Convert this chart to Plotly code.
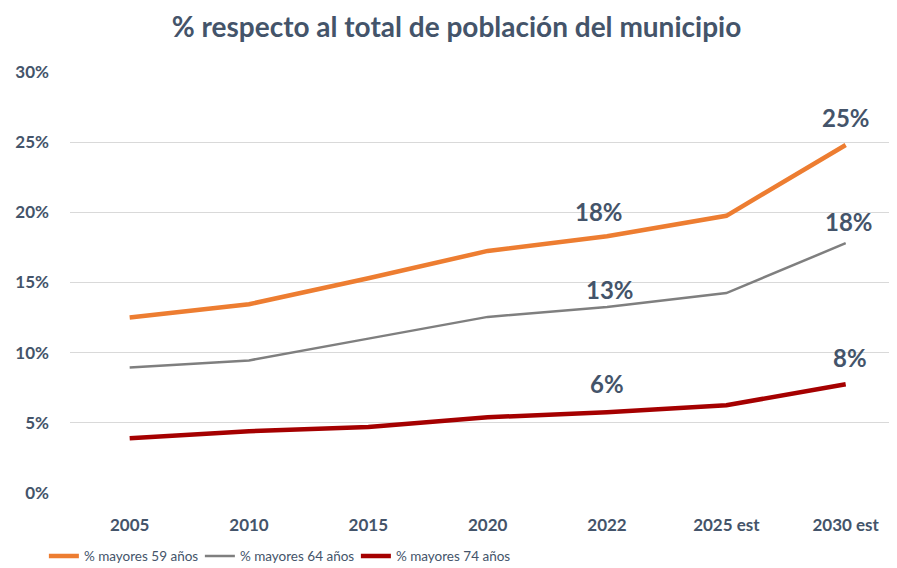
import plotly.graph_objects as go

categories = ["2005", "2010", "2015", "2020", "2022", "2025 est", "2030 est"]
may59 = [12.5, 13.45, 15.3, 17.25, 18.3, 19.75, 24.8]
may64 = [8.95, 9.45, 11.0, 12.55, 13.25, 14.25, 17.8]
may74 = [3.9, 4.4, 4.7, 5.4, 5.75, 6.25, 7.75]
series_names = ["% mayores 59 años", "% mayores 64 años", "% mayores 74 años"]
colors = ["#ED7D31", "#7F7F7F", "#A50000"]
widths = [4.5, 2.5, 4.5]
label_cats = ["2022", "2030 est"]
label_shift = [[25, 27], [18, 22], [29, 27]]
label_xshift = [[-8, 0], [3, 3], [0, 4]]

TXT = "#44546A"
FONT = "Lato, 'Open Sans', sans-serif"

fig = go.Figure()
for name, vals, c, w in zip(series_names, [may59, may64, may74], colors, widths):
    fig.add_trace(go.Scatter(x=categories, y=vals, mode="lines", name=name,
                             line=dict(color=c, width=w)))

for vals, shifts, xshifts in zip([may59, may64, may74], label_shift, label_xshift):
    for cat, sh, xs in zip(label_cats, shifts, xshifts):
        i = categories.index(cat)
        v = vals[i]
        fig.add_annotation(x=i, y=v, xref="x", yref="y", text=f"<b>{round(v)}%</b>",
                           showarrow=False, yshift=sh, xshift=xs,
                           font=dict(size=24, color=TXT, family=FONT))

fig.update_layout(
    width=897, height=568,
    paper_bgcolor="white", plot_bgcolor="white",
    margin=dict(l=62, r=8, t=64, b=83, autoexpand=False),
    title=dict(text="<b>% respecto al total de población del municipio</b>",
               x=0.5, xanchor="center", y=0.966, yanchor="middle",
               font=dict(size=28, color=TXT, family=FONT)),
    font=dict(family=FONT, color=TXT),
    showlegend=True,
    legend=dict(orientation="h", xref="container", yref="container",
                x=0.040, xanchor="left", y=0.035, yanchor="middle",
                font=dict(size=13.5, color=TXT, family=FONT), itemwidth=30,
                entrywidth=111, entrywidthmode="pixels",
                traceorder="normal"),
    xaxis=dict(type="category", range=[-0.5, 6.43], showgrid=False, showline=False,
               ticks="", tickfont=dict(size=17, color=TXT, family=FONT),
               ticklabelstandoff=20, zeroline=False, automargin=False),
    yaxis=dict(range=[0, 30], dtick=5, showgrid=True,
               gridcolor="#D9D9D9", gridwidth=1, zeroline=False, showline=False,
               tickfont=dict(size=17, color=TXT, family=FONT),
               ticklabelstandoff=20, automargin=False),
)
fig.update_xaxes(tickprefix="<b>", ticksuffix="</b>")
fig.update_yaxes(tickprefix="<b>", ticksuffix="%</b>")

fig.write_html("out.html")
